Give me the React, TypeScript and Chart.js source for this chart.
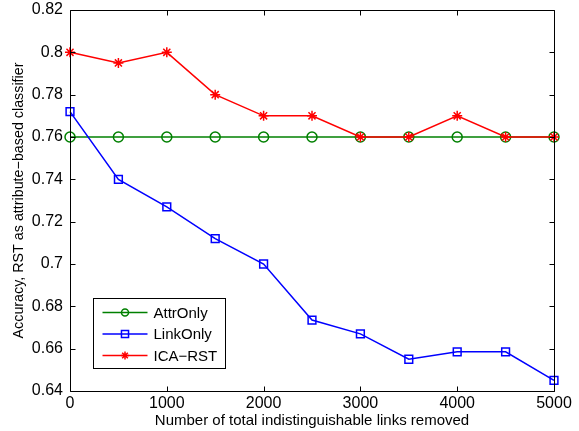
import React, { useEffect, useRef } from "react";
import { Chart, registerables } from "chart.js";

Chart.register(...registerables);

const xValues = [0, 500, 1000, 1500, 2000, 2500, 3000, 3500, 4000, 4500, 5000];
const attrOnly = [0.76, 0.76, 0.76, 0.76, 0.76, 0.76, 0.76, 0.76, 0.76, 0.76, 0.76];
const linkOnly = [0.772, 0.74, 0.727, 0.712, 0.7, 0.6735, 0.667, 0.655, 0.6585, 0.6585, 0.645];
const icaRst = [0.8, 0.795, 0.8, 0.78, 0.77, 0.77, 0.76, 0.76, 0.77, 0.76, 0.76];
const seriesLabels = ["AttrOnly", "LinkOnly", "ICA\u2212RST"];
const xTickValues = [0, 1000, 2000, 3000, 4000, 5000];
const yTickValues = [0.64, 0.66, 0.68, 0.7, 0.72, 0.74, 0.76, 0.78, 0.8, 0.82];
const xTitle = "Number of total indistinguishable links removed";
const yTitle = "Accuracy, RST as attribute\u2212based classifier";

const FONT = "'Liberation Sans', Arial, Helvetica, sans-serif";

function drawMarker(ctx: CanvasRenderingContext2D, style: string, x: number, y: number, r: number) {
  ctx.beginPath();
  if (style === "circle") {
    ctx.arc(x, y, r, 0, Math.PI * 2);
  } else if (style === "rect") {
    const s = Math.SQRT1_2 * r;
    ctx.rect(x - s, y - s, 2 * s, 2 * s);
  } else if (style === "star") {
    ctx.moveTo(x, y - r);
    ctx.lineTo(x, y + r);
    ctx.moveTo(x - r, y);
    ctx.lineTo(x + r, y);
    const d = r * Math.SQRT1_2;
    ctx.moveTo(x - d, y - d);
    ctx.lineTo(x + d, y + d);
    ctx.moveTo(x - d, y + d);
    ctx.lineTo(x + d, y - d);
  }
  ctx.stroke();
}

const framePlugin = {
  id: "matlabFrame",
  afterDraw(chart: any) {
    const { ctx, chartArea } = chart;
    const { left, right, top, bottom } = chartArea;
    const xs = chart.scales.x;
    const ys = chart.scales.y;
    ctx.save();
    ctx.strokeStyle = "#000";
    ctx.lineWidth = 1;
    const L = Math.round(left) + 0.5;
    const R = Math.round(right) + 0.5;
    const T = Math.round(top) + 0.5;
    const B = Math.round(bottom) + 0.5;
    ctx.beginPath();
    ctx.rect(L, T, R - L, B - T);
    ctx.stroke();
    const tl = 5;
    ctx.beginPath();
    xs.ticks.forEach((t: any) => {
      const px = Math.round(xs.getPixelForValue(t.value)) + 0.5;
      ctx.moveTo(px, B);
      ctx.lineTo(px, B - tl);
      ctx.moveTo(px, T);
      ctx.lineTo(px, T + tl);
    });
    ys.ticks.forEach((t: any) => {
      const py = Math.round(ys.getPixelForValue(t.value)) + 0.5;
      ctx.moveTo(L, py);
      ctx.lineTo(L + tl, py);
      ctx.moveTo(R, py);
      ctx.lineTo(R - tl, py);
    });
    ctx.stroke();

    // legend
    const bx = Math.round(left) + 23 + 0.5;
    const bw = 132;
    const bh = 70;
    const by = Math.round(bottom) - 23 - bh + 0.5;
    ctx.fillStyle = "#fff";
    ctx.fillRect(bx, by, bw, bh);
    ctx.strokeStyle = "#000";
    ctx.lineWidth = 1;
    ctx.strokeRect(bx, by, bw, bh);
    ctx.font = `15px ${FONT}`;
    ctx.textBaseline = "middle";
    ctx.textAlign = "left";
    const order = [0, 1, 2];
    order.forEach((i, k) => {
      const ds = chart.data.datasets[i];
      const cy = by + 14 + k * 21.5;
      ctx.strokeStyle = ds.borderColor;
      ctx.lineWidth = 1.5;
      ctx.beginPath();
      ctx.moveTo(bx + 9, cy);
      ctx.lineTo(bx + 54, cy);
      ctx.stroke();
      const st = ds.pointStyle;
      drawMarker(ctx, st, bx + 31.5, cy, st === "rect" ? 5 : st === "star" ? 4 : 3.5);
      ctx.fillStyle = "#000";
      ctx.fillText(ds.label, bx + 60, cy + 1);
    });
    ctx.restore();
  },
};

export default function App() {
  const ref = useRef<HTMLCanvasElement | null>(null);
  useEffect(() => {
    if (!ref.current) return;
    Chart.defaults.color = "#000";
    Chart.defaults.font.family = FONT;
    const mk = (vals: number[]) => xValues.map((x, i) => ({ x, y: vals[i] }));
    const chart = new Chart(ref.current, {
      type: "line",
      data: {
        datasets: [
          {
            label: seriesLabels[0],
            data: mk(attrOnly),
            borderColor: "#008000",
            backgroundColor: "rgba(0,0,0,0)",
            borderWidth: 1.5,
            pointStyle: "circle",
            pointRadius: 5,
            pointBorderWidth: 1.5,
            pointBackgroundColor: "rgba(0,0,0,0)",
            pointBorderColor: "#008000",
            clip: false,
            order: 2,
          },
          {
            label: seriesLabels[1],
            data: mk(linkOnly),
            borderColor: "#0000ff",
            backgroundColor: "rgba(0,0,0,0)",
            borderWidth: 1.5,
            pointStyle: "rect",
            pointRadius: 5.5,
            pointBorderWidth: 1.5,
            pointBackgroundColor: "rgba(0,0,0,0)",
            pointBorderColor: "#0000ff",
            clip: false,
            order: 1,
          },
          {
            label: seriesLabels[2],
            data: mk(icaRst),
            borderColor: "#ff0000",
            backgroundColor: "rgba(0,0,0,0)",
            borderWidth: 1.5,
            pointStyle: "star",
            pointRadius: 5,
            pointBorderWidth: 1.5,
            pointBackgroundColor: "rgba(0,0,0,0)",
            pointBorderColor: "#ff0000",
            clip: false,
            order: 0,
          },
        ],
      } as any,
      options: {
        animation: false,
        responsive: false,
        layout: { padding: { top: 10, right: 25, left: 0, bottom: 0 } },
        plugins: { legend: { display: false }, tooltip: { enabled: false } },
        scales: {
          x: {
            type: "linear",
            min: 0,
            max: 5000,
            afterFit: (s: any) => {
              s.height = 40;
              s.paddingLeft = 0;
              s.paddingRight = 0;
            },
            afterBuildTicks: (s: any) => {
              s.ticks = xTickValues.map((v) => ({ value: v }));
            },
            grid: { display: false, drawTicks: false },
            border: { display: false },
            ticks: {
              padding: 3,
              font: { size: 16, family: FONT },
              color: "#000",
              maxRotation: 0,
              callback: (v: any) => String(v),
            },
            title: {
              display: true,
              text: xTitle,
              font: { size: 15, family: FONT },
              color: "#000",
              padding: { top: 0, bottom: 1 },
            },
          },
          y: {
            type: "linear",
            min: 0.64,
            max: 0.82,
            afterFit: (s: any) => {
              s.width = 70;
              s.paddingTop = 0;
              s.paddingBottom = 0;
            },
            afterBuildTicks: (s: any) => {
              s.ticks = yTickValues.map((v) => ({ value: v }));
            },
            grid: { display: false, drawTicks: false },
            border: { display: false },
            ticks: {
              padding: 7,
              font: { size: 16, family: FONT },
              color: "#000",
              callback: (v: any) => String(Number(Number(v).toFixed(2))),
            },
            title: {
              display: true,
              text: yTitle,
              font: { size: 14.3, family: FONT },
              color: "#000",
              padding: { top: 10, bottom: 0 },
            },
          },
        },
      } as any,
      plugins: [framePlugin],
    });
    return () => chart.destroy();
  }, []);
  return (
    <div style={{ position: "absolute", left: 0, top: 0, width: 579, height: 431 }}>
      <canvas ref={ref} width={579} height={431} style={{ width: 579, height: 431, display: "block" }} />
    </div>
  );
}
